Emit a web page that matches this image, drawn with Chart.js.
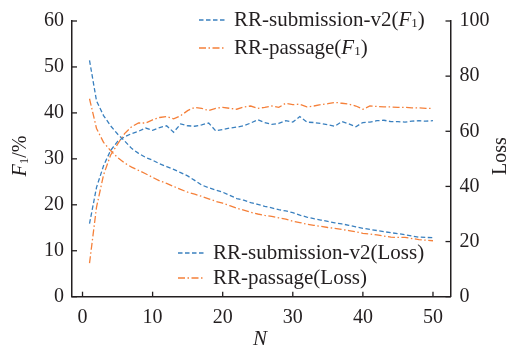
<!DOCTYPE html>
<html>
<head>
<meta charset="utf-8">
<script src="https://cdn.jsdelivr.net/npm/chart.js@4"></script>
<style>
html,body{margin:0;padding:0;background:#fff;}
#wrap{width:513px;height:350px;position:relative;}
</style>
</head>
<body>
<div id="wrap"><canvas id="c" width="513" height="350"></canvas></div>
<script>
// ---- data ----
const epochs = Array.from({length:50},(_,i)=>i+1);
const subF1 = [15.9,23.8,28.5,31.8,33.8,34.8,35.5,36.0,36.7,36.2,
               36.8,37.2,35.8,37.6,37.2,37.1,37.4,37.8,36.1,36.4,
               36.7,36.9,37.2,37.8,38.5,37.9,37.5,37.7,38.3,38.0,
               39.2,38.0,37.9,37.7,37.4,37.1,38.1,37.6,37.0,37.9,
               38.0,38.3,38.4,38.1,38.1,38.0,38.2,38.3,38.2,38.3];
const pasF1 = [7.3,19.5,26.5,30.8,33.2,35.5,37.0,37.8,37.8,38.5,
               39.0,39.2,38.7,39.4,40.5,41.2,41.0,40.5,41.0,41.2,
               41.0,40.8,41.3,41.5,41.0,41.2,41.5,41.2,42.1,41.8,
               41.9,41.3,41.5,41.8,42.0,42.3,42.1,41.9,41.5,40.8,
               41.5,41.4,41.3,41.3,41.2,41.2,41.1,41.1,41.0,41.0];
const subLoss = [85.7,71.0,65.7,62.0,59.0,56.5,53.8,52.0,50.5,49.5,
                 48.2,47.2,46.2,45.0,43.8,42.2,40.5,39.5,38.7,37.9,
                 36.8,35.6,35.0,34.1,33.5,32.8,32.2,31.6,31.1,30.5,
                 29.6,28.9,28.3,27.8,27.3,26.8,26.4,25.9,25.3,24.8,
                 24.4,24.0,23.6,23.2,22.9,22.5,22.0,21.6,21.5,21.4];
const pasLoss = [71.8,61.0,56.0,53.0,50.5,48.5,47.0,45.8,44.6,43.3,
                 42.0,41.1,40.0,38.9,37.9,37.2,36.4,35.5,34.6,33.9,
                 33.0,32.1,31.4,30.6,30.0,29.5,29.1,28.6,28.1,27.4,
                 26.9,26.3,25.9,25.5,25.1,24.8,24.4,24.0,23.5,23.0,
                 22.7,22.4,22.0,21.6,21.5,21.5,21.1,20.7,20.5,20.3];
const xTicks = [0,10,20,30,40,50];
const yTicks = [0,10,20,30,40,50,60];
const y1Ticks = [0,20,40,60,80,100];

const BLUE = '#3a80bf';
const ORANGE = '#f5803a';
const INK = '#231f20';
const SERIF = '"Liberation Serif","Times New Roman",serif';
const DASH = [4.5,2.5];
const DASHDOT = [7,2.5,1.5,2.5];

const pts = arr => arr.map((v,i)=>({x:epochs[i], y:v}));

function drawRich(ctx, parts, x, y, align){
  let w = 0;
  parts.forEach(p=>{ ctx.font = p.font; w += ctx.measureText(p.text).width; });
  let cx = align==='center' ? x - w/2 : x;
  parts.forEach(p=>{
    ctx.font = p.font;
    ctx.fillText(p.text, cx, y + (p.dy||0));
    cx += ctx.measureText(p.text).width;
  });
}

const deco = {
  id:'deco',
  afterDatasetsDraw(chart){
    const ctx = chart.ctx;
    const {x, y, y1} = chart.scales;
    const ca = chart.chartArea;
    ctx.save();
    ctx.strokeStyle = INK; ctx.lineWidth = 1.3; ctx.setLineDash([]);
    // inward ticks
    x.ticks.forEach(t=>{ const px = x.getPixelForValue(t.value);
      ctx.beginPath(); ctx.moveTo(px, ca.bottom); ctx.lineTo(px, ca.bottom-5); ctx.stroke(); });
    y.ticks.forEach(t=>{ const py = y.getPixelForValue(t.value);
      ctx.beginPath(); ctx.moveTo(ca.left, py); ctx.lineTo(ca.left+5, py); ctx.stroke(); });
    y1.ticks.forEach(t=>{ const py = y1.getPixelForValue(t.value);
      ctx.beginPath(); ctx.moveTo(ca.right, py); ctx.lineTo(ca.right-5, py); ctx.stroke(); });

    ctx.fillStyle = INK;
    ctx.textBaseline = 'middle';
    const nf = '21px '+SERIF, itf = 'italic 21px '+SERIF, sf = '13px '+SERIF;
    // legends
    const legend = (x0, x1, yy, color, dash, parts) => {
      ctx.strokeStyle = color; ctx.lineWidth = 1.3; ctx.setLineDash(dash);
      ctx.beginPath(); ctx.moveTo(x0, yy); ctx.lineTo(x1, yy); ctx.stroke();
      ctx.setLineDash([]);
      ctx.textAlign = 'left';
      drawRich(ctx, parts, x1+8, yy, 'left');
    };
    legend(199, 226, 20, BLUE, DASH, [{text:'RR-submission-v2(',font:nf},{text:'F',font:itf},{text:'1',font:sf,dy:4},{text:')',font:nf}]);
    legend(199, 226, 48, ORANGE, DASHDOT, [{text:'RR-passage(',font:nf},{text:'F',font:itf},{text:'1',font:sf,dy:4},{text:')',font:nf}]);
    legend(178, 205, 253, BLUE, DASH, [{text:'RR-submission-v2(Loss)',font:nf}]);
    legend(178, 205, 278, ORANGE, DASHDOT, [{text:'RR-passage(Loss)',font:nf}]);

    // axis titles
    ctx.textAlign = 'left';
    ctx.save(); ctx.translate(21, 156); ctx.rotate(-Math.PI/2);
    drawRich(ctx, [{text:'F',font:'italic 20px '+SERIF},{text:'1',font:'13px '+SERIF,dy:4},{text:'/%',font:'20px '+SERIF}], 0, 0, 'center');
    ctx.restore();
    ctx.save(); ctx.translate(501, 156); ctx.rotate(-Math.PI/2);
    drawRich(ctx, [{text:'Loss',font:'20px '+SERIF}], 0, 0, 'center');
    ctx.restore();
    drawRich(ctx, [{text:'N',font:'italic 21px '+SERIF}], 260, 339, 'center');
    ctx.restore();
  }
};

const tickFont = {family:SERIF, size:20};
new Chart(document.getElementById('c'), {
  type:'line',
  data:{datasets:[
    {label:'RR-submission-v2(F1)', data:pts(subF1), yAxisID:'y', borderColor:BLUE, borderDash:DASH},
    {label:'RR-passage(F1)', data:pts(pasF1), yAxisID:'y', borderColor:ORANGE, borderDash:DASHDOT},
    {label:'RR-submission-v2(Loss)', data:pts(subLoss), yAxisID:'y1', borderColor:BLUE, borderDash:DASH},
    {label:'RR-passage(Loss)', data:pts(pasLoss), yAxisID:'y1', borderColor:ORANGE, borderDash:DASHDOT}
  ]},
  options:{
    responsive:false, animation:false, devicePixelRatio:1,
    layout:{padding:{top:15.5,left:0,right:0,bottom:0}},
    elements:{point:{radius:0}, line:{borderWidth:1.3, tension:0, fill:false}},
    plugins:{legend:{display:false}, tooltip:{enabled:false}},
    scales:{
      x:{type:'linear', min:-1.5, max:52.5,
         afterBuildTicks:s=>{ s.ticks = xTicks.map(v=>({value:v})); },
         afterFit:s=>{ s.height = 53.3; },
         grid:{display:false, drawTicks:false},
         border:{display:true, color:INK, width:1.5},
         ticks:{font:tickFont, color:INK, padding:9, maxRotation:0}},
      y:{position:'left', min:0, max:60,
         afterBuildTicks:s=>{ s.ticks = yTicks.map(v=>({value:v})); },
         afterFit:s=>{ s.width = 72; },
         grid:{display:false, drawTicks:false},
         border:{display:true, color:INK, width:1.5},
         ticks:{font:tickFont, color:INK, padding:8}},
      y1:{position:'right', min:0, max:100,
         afterBuildTicks:s=>{ s.ticks = y1Ticks.map(v=>({value:v})); },
         afterFit:s=>{ s.width = 62.5; },
         grid:{display:false, drawTicks:false},
         border:{display:true, color:INK, width:1.5},
         ticks:{font:tickFont, color:INK, padding:9}}
    }
  },
  plugins:[deco]
});
</script>
</body>
</html>
